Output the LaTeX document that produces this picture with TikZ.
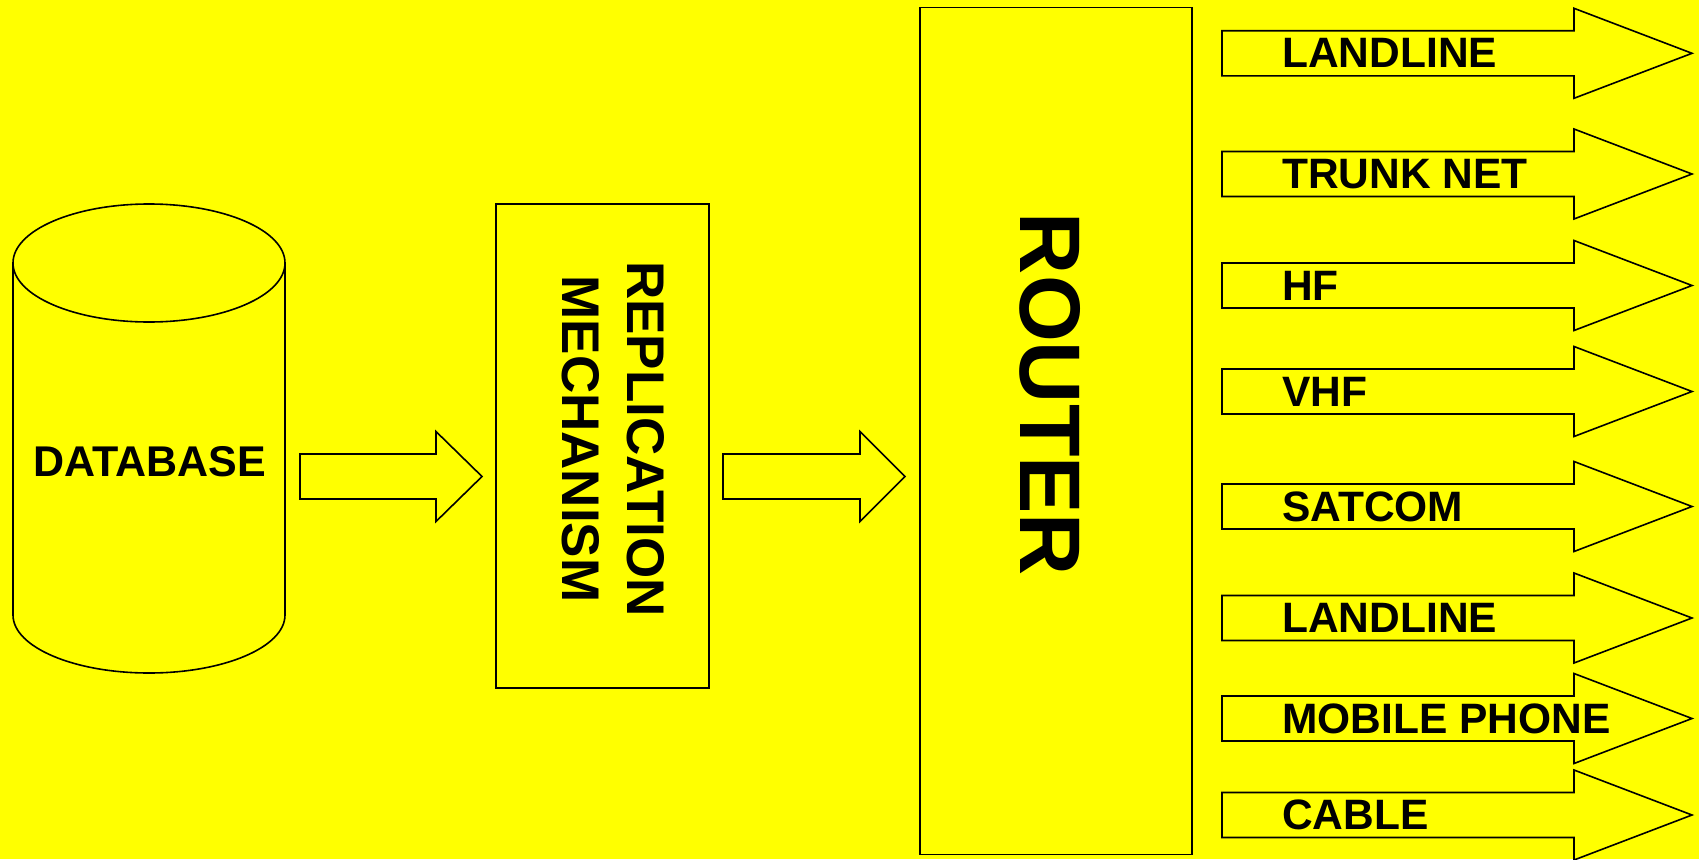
\documentclass[tikz,border=0pt]{standalone}
\usepackage{fontspec}
\setmainfont{Liberation Sans}
\definecolor{bgyellow}{RGB}{255,255,0}
\newcommand\BlkArrow[6]{%
  \draw[blk] (#1,#4-#5) -- (#2,#4-#5) -- (#2,#4-#6) -- (#3,#4) -- (#2,#4+#6) -- (#2,#4+#5) -- (#1,#4+#5) -- cycle;}
\tikzset{
  outl/.style={draw=black, line width=1.6pt, fill=bgyellow},
  blk/.style={draw=black, line width=1.6pt, fill=bgyellow, line join=miter},
  lbl/.style={inner sep=0pt, anchor=west, font=\fontsize{42.5}{51}\selectfont\bfseries},
}
\begin{document}
\begin{tikzpicture}[x=1pt,y=-1pt]
\fill[bgyellow] (0,0) rectangle (1699,859);
\useasboundingbox (0,0) rectangle (1699,859);
% database cylinder
\draw[outl] (13,263) -- (13,615) arc[start angle=180, end angle=0, x radius=136, y radius=58] -- (285,263);
\draw[outl] (149,263) ellipse[x radius=136, y radius=59];
\node[inner sep=0pt, font=\fontsize{43}{51}\selectfont\bfseries] (db) at (150,462) {DATABASE};
% arrow database -> replication
\BlkArrow{300}{436}{482}{476.5}{22.5}{45}
% replication box
\draw[outl] (496,204) rectangle (709,688);
\node[inner sep=0pt, rotate=-90, align=center, font=\fontsize{53}{65}\selectfont\bfseries] (rep) at (613.5,439) {REPLICATION\\MECHANISM};
% arrow replication -> router
\BlkArrow{723}{860}{905}{476.5}{22.5}{45}
% router
\draw[outl] (920,7.5) rectangle (1192,854.5);
\node[inner sep=0pt, rotate=-90, font=\fontsize{86}{100}\selectfont\bfseries] (router) at (1050,394.5) {ROUTER};
% output arrows
\BlkArrow{1222}{1574}{1692}{53.3}{22.5}{45}
\node[lbl] (l1) at (1282,53.3) {LANDLINE};
\BlkArrow{1222}{1574}{1692}{174}{22.5}{45}
\node[lbl] (l2) at (1282,174) {TRUNK NET};
\BlkArrow{1222}{1574}{1692}{285.5}{22.5}{45}
\node[lbl] (l3) at (1282,285.5) {HF};
\BlkArrow{1222}{1574}{1692}{391.5}{22.5}{45}
\node[lbl] (l4) at (1282,391.5) {VHF};
\BlkArrow{1222}{1574}{1692}{506.5}{22.5}{45}
\node[lbl] (l5) at (1282,506.5) {SATCOM};
\BlkArrow{1222}{1574}{1692}{618}{22.5}{45}
\node[lbl] (l6) at (1282,618) {LANDLINE};
\BlkArrow{1222}{1574}{1692}{718.5}{22.5}{45}
\node[lbl] (l7) at (1282,718.5) {MOBILE PHONE};
\BlkArrow{1222}{1574}{1692}{815}{22.5}{45}
\node[lbl] (l8) at (1282,815) {CABLE};
\end{tikzpicture}
\end{document}
